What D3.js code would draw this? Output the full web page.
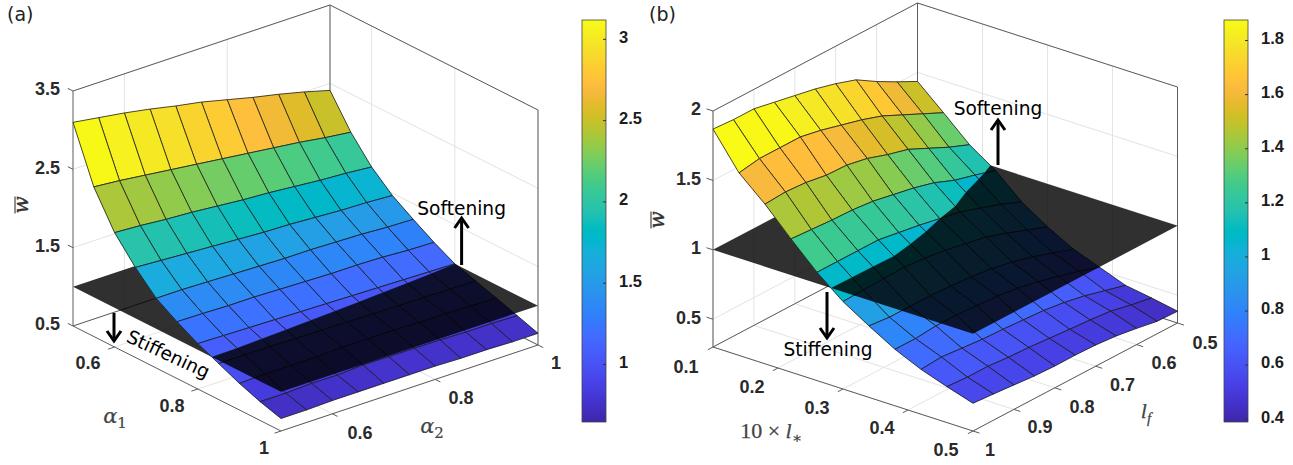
<!DOCTYPE html>
<html><head><meta charset="utf-8">
<script src="https://cdn.jsdelivr.net/npm/d3@7/dist/d3.min.js"></script>
<style>
html,body{margin:0;padding:0;background:#fff}
svg{display:block}
text{fill:#1c1c1c}
.tick-label{font:bold 18px "Liberation Sans",Arial,sans-serif;fill:#2a2a2a}
.cb-label{font:bold 16.5px "Liberation Sans",Arial,sans-serif}
.note{font:18.6px "DejaVu Sans",Verdana,sans-serif;fill:#000}
.panel{font:19px "DejaVu Sans",Verdana,sans-serif;fill:#222}
.math{font:italic 22px "Liberation Serif","DejaVu Serif",serif;fill:#444;stroke:#444;stroke-width:.25}
.greek{font:italic 21px "DejaVu Serif",serif;fill:#444;stroke:#444;stroke-width:.2}
.mathb{font:italic 20px "DejaVu Serif",serif;fill:#333;stroke:#333;stroke-width:.4}
</style></head><body>
<script>
// ---------- data ----------
const alpha1 = [0.5,0.55,0.6,0.65,0.7,0.75,0.8,0.85,0.9,0.95,1];
const alpha2 = [0.5,0.55,0.6,0.65,0.7,0.75,0.8,0.85,0.9,0.95,1];
const wA = [
 [3.10,3.05,3.00,2.94,2.87,2.81,2.73,2.65,2.58,2.50,2.41],
 [2.41,2.38,2.34,2.30,2.26,2.22,2.18,2.14,2.10,2.05,2.01],
 [1.96,1.94,1.91,1.89,1.86,1.83,1.81,1.78,1.75,1.73,1.70],
 [1.65,1.63,1.61,1.59,1.57,1.55,1.54,1.52,1.50,1.49,1.47],
 [1.39,1.39,1.38,1.37,1.36,1.35,1.35,1.34,1.33,1.31,1.30],
 [1.225,1.22,1.21,1.21,1.20,1.19,1.18,1.18,1.17,1.15,1.14],
 [1.08,1.072,1.064,1.056,1.048,1.04,1.032,1.024,1.016,1.008,1.00],
 [0.96,0.96,0.955,0.95,0.945,0.94,0.935,0.93,0.925,0.92,0.915],
 [0.84,0.85,0.85,0.85,0.86,0.86,0.86,0.85,0.85,0.84,0.83],
 [0.74,0.74,0.755,0.75,0.77,0.766,0.763,0.76,0.75,0.75,0.74],
 [0.66,0.66,0.67,0.67,0.67,0.67,0.67,0.66,0.66,0.65,0.65]
];
const lStar = [0.1,0.14,0.18,0.22,0.26,0.3,0.34,0.38,0.42,0.46,0.5];
const lf = [1,0.95,0.9,0.85,0.8,0.75,0.7,0.65,0.6,0.55,0.5];
const wB = [
 [1.87,1.86,1.86,1.83,1.80,1.77,1.73,1.68,1.59,1.51,1.435],
 [1.615,1.64,1.64,1.64,1.61,1.57,1.53,1.48,1.41,1.34,1.27],
 [1.45,1.46,1.45,1.425,1.42,1.39,1.34,1.30,1.23,1.16,1.10],
 [1.26,1.25,1.24,1.235,1.22,1.19,1.16,1.12,1.06,1.02,0.975],
 [1.08,1.08,1.08,1.08,1.055,1.03,1.00,0.97,0.92,0.87,0.81],
 [0.93,0.935,0.94,0.945,0.93,0.91,0.88,0.85,0.80,0.745,0.69],
 [0.815,0.80,0.80,0.80,0.79,0.78,0.76,0.73,0.69,0.64,0.59],
 [0.707,0.706,0.72,0.72,0.71,0.70,0.68,0.65,0.61,0.57,0.52],
 [0.623,0.634,0.62,0.606,0.60,0.59,0.58,0.56,0.53,0.49,0.45],
 [0.559,0.55,0.55,0.537,0.53,0.518,0.505,0.495,0.48,0.447,0.42],
 [0.50,0.489,0.476,0.463,0.457,0.458,0.453,0.44,0.417,0.39,0.385]
];
const zTicksA = [0.5,1.5,2.5,3.5];
const uTicksA = [0.6,0.8,1];
const vTicksA = [0.6,0.8,1];
const cbTicksA = [1,1.5,2,2.5,3];
const zTicksB = [0.5,1,1.5,2];
const uTicksB = [0.1,0.2,0.3,0.4,0.5];
const vTicksB = [0.5,0.6,0.7,0.8,0.9,1];
const cbTicksB = [0.4,0.6,0.8,1,1.2,1.4,1.6,1.8];
const planeLevel = 1;

// MATLAB parula colormap
const parula = [[.2422,.1504,.6603],[.2504,.1650,.7076],[.2578,.1818,.7511],[.2647,.1978,.7952],[.2706,.2147,.8364],[.2751,.2342,.8710],[.2783,.2559,.8991],[.2803,.2782,.9221],[.2813,.3006,.9414],[.2810,.3228,.9579],[.2795,.3447,.9717],[.2760,.3667,.9829],[.2699,.3892,.9906],[.2602,.4123,.9952],[.2440,.4358,.9988],[.2206,.4603,.9973],[.1963,.4847,.9892],[.1834,.5074,.9798],[.1786,.5289,.9682],[.1764,.5499,.9520],[.1687,.5703,.9359],[.1540,.5902,.9218],[.1460,.6091,.9079],[.1380,.6276,.8973],[.1248,.6459,.8883],[.1113,.6635,.8763],[.0952,.6798,.8598],[.0689,.6948,.8394],[.0297,.7082,.8163],[.0036,.7203,.7917],[.0067,.7312,.7660],[.0433,.7411,.7394],[.0964,.7500,.7120],[.1408,.7584,.6842],[.1717,.7670,.6554],[.1938,.7758,.6251],[.2161,.7843,.5923],[.2470,.7918,.5567],[.2906,.7973,.5188],[.3406,.8008,.4789],[.3909,.8029,.4354],[.4456,.8024,.3909],[.5044,.7993,.3480],[.5616,.7942,.3045],[.6174,.7876,.2612],[.6720,.7793,.2227],[.7242,.7698,.1910],[.7738,.7598,.1646],[.8203,.7498,.1535],[.8634,.7406,.1596],[.9035,.7330,.1774],[.9393,.7288,.2100],[.9728,.7298,.2394],[.9956,.7434,.2371],[.9970,.7659,.2199],[.9952,.7893,.2028],[.9892,.8136,.1885],[.9786,.8386,.1766],[.9676,.8639,.1643],[.9610,.8890,.1537],[.9597,.9135,.1423],[.9628,.9373,.1265],[.9691,.9606,.1064],[.9769,.9839,.0805]]
  .map(c=>d3.rgb(c[0]*255,c[1]*255,c[2]*255));
const parulaFn = d3.scaleLinear().domain(parula.map((_,i)=>i/(parula.length-1))).range(parula).interpolate(d3.interpolateRgb);

const svg = d3.select("body").append("svg").attr("width",1293).attr("height",465);
const defs = svg.append("defs");

function drawPanel(cfg){
  const g = svg.append("g");
  const {L,F,R,H,uDom,vDom,zDom,us,vs,w} = cfg;
  const B = [L[0]+R[0]-F[0], L[1]+R[1]-F[1]];
  const tu = d3.scaleLinear().domain(uDom).range([0,1]);
  const tv = d3.scaleLinear().domain(vDom).range([0,1]);
  const hz = d3.scaleLinear().domain(zDom).range([0,H]);
  const P = (u,v,z)=>[
    L[0]+tu(u)*(F[0]-L[0])+tv(v)*(B[0]-L[0]),
    L[1]+tu(u)*(F[1]-L[1])+tv(v)*(B[1]-L[1])-hz(z)
  ];
  const [u0,u1]=uDom,[v0,v1]=vDom,[z0,z1]=zDom;
  const line=d3.line();
  const seg=(a,b,col,wd)=>g.append("path").attr("d",line([a,b])).attr("stroke",col).attr("stroke-width",wd).attr("fill","none");
  const GRID="#e3e3e3", BOX="#5c5c5c";

  // wall and floor grid
  cfg.zTicks.forEach(z=>{
    seg(P(u0,v0,z),P(u0,v1,z),GRID,1);
    seg(P(u0,v1,z),P(u1,v1,z),GRID,1);
  });
  cfg.vTicks.forEach(v=>{
    seg(P(u0,v,z0),P(u0,v,z1),GRID,1);
    seg(P(u0,v,z0),P(u1,v,z0),GRID,1);
  });
  cfg.uTicks.forEach(u=>{
    seg(P(u,v1,z0),P(u,v1,z1),GRID,1);
    seg(P(u,v0,z0),P(u,v1,z0),GRID,1);
  });
  // box
  [[[u0,v0,z0],[u0,v0,z1]],[[u0,v0,z1],[u0,v1,z1]],[[u0,v1,z1],[u1,v1,z1]],[[u1,v1,z1],[u1,v1,z0]],
   [[u0,v1,z1],[u0,v1,z0]],[[u0,v0,z0],[u0,v1,z0]],[[u0,v1,z0],[u1,v1,z0]],
   [[u0,v0,z0],[u1,v0,z0]],[[u1,v0,z0],[u1,v1,z0]]]
   .forEach(e=>seg(P(...e[0]),P(...e[1]),BOX,1));
  const zScale=d3.scaleLinear().domain(zDom).range([L[1],L[1]-H]);
  const dxu=(F[0]-L[0])*0.025, dyu=(F[1]-L[1])*0.025;
  const dxv=(B[0]-L[0])*0.025, dyv=(B[1]-L[1])*0.025;
  cfg.zTicks.forEach(z=>{
    const p=P(u0,v0,z);
    seg(p,[p[0]-dxu,p[1]-dyu],BOX,1);
    g.append("text").attr("class","tick-label").attr("x",cfg.zLabelX).attr("y",zScale(z)-2).attr("dy","0.35em").attr("text-anchor","end").text(z);
  });
  cfg.uTicks.forEach((u,i)=>{
    const p=P(u,v0,z0);
    seg(p,[p[0]-dxv,p[1]-dyv],BOX,1);
    g.append("text").attr("class","tick-label").attr("x",cfg.uLabels[i][0]).attr("y",cfg.uLabels[i][1]).attr("dy","0.35em").attr("text-anchor","middle").text(u);
  });
  cfg.vTicks.forEach((v,i)=>{
    const p=P(u1,v,z0);
    seg(p,[p[0]+dxu,p[1]+dyu],BOX,1);
    g.append("text").attr("class","tick-label").attr("x",cfg.vLabels[i][0]).attr("y",cfg.vLabels[i][1]).attr("dy","0.35em").attr("text-anchor","middle").text(v);
  });

  // surface
  const color=d3.scaleLinear().domain(cfg.cDom).range([0,1]).clamp(true);
  const cells=[];
  for(let i=0;i<us.length-1;i++){
    for(let j=vs.length-2;j>=0;j--){
      cells.push({c:parulaFn(color(w[i][j])),
        q:[[us[i],vs[j],w[i][j]],[us[i+1],vs[j],w[i+1][j]],[us[i+1],vs[j+1],w[i+1][j+1]],[us[i],vs[j+1],w[i][j+1]]]});
    }
  }
  cells.sort((a,b)=>(tu(a.q[0][0])-tv(a.q[0][1]))-(tu(b.q[0][0])-tv(b.q[0][1])));
  const keep=(p,sgn)=>sgn*(p[2]-planeLevel)>=0;
  const cross=(a,b)=>{const t=(planeLevel-a[2])/(b[2]-a[2]);return [a[0]+t*(b[0]-a[0]),a[1]+t*(b[1]-a[1]),planeLevel];};
  function part(cell,sgn){
    const poly=[],edges=[];
    cell.q.forEach((a,k)=>{
      const b=cell.q[(k+1)%4];
      const ka=keep(a,sgn),kb=keep(b,sgn);
      if(ka) poly.push(a);
      if(ka!==kb) poly.push(cross(a,b));
      if(ka&&kb) edges.push([a,b]);
      else if(ka) edges.push([a,cross(a,b)]);
      else if(kb) edges.push([cross(a,b),b]);
    });
    if(poly.length<3) return;
    g.append("path").attr("d",line(poly.map(p=>P(...p)))+"Z").attr("fill",cell.c).attr("stroke",cell.c).attr("stroke-width",0.3);
    g.append("path").attr("d",edges.map(e=>line(e.map(p=>P(...p)))).join("")).attr("fill","none").attr("stroke","#1a1a1a").attr("stroke-width",0.8);
  }
  cells.forEach(c=>part(c,-1));
  g.append("path").attr("d",line([P(u0,v0,planeLevel),P(u1,v0,planeLevel),P(u1,v1,planeLevel),P(u0,v1,planeLevel)])+"Z")
    .attr("fill","#000").attr("fill-opacity",0.81);
  cells.forEach(c=>part(c,1));

  // colour bar
  const cb=cfg.cb;
  const id="cbgrad"+cfg.id;
  const grad=defs.append("linearGradient").attr("id",id).attr("x1",0).attr("x2",0).attr("y1",1).attr("y2",0);
  parula.forEach((c,i)=>grad.append("stop").attr("offset",i/(parula.length-1)).attr("stop-color",c));
  g.append("rect").attr("x",cb.x).attr("y",cb.y0).attr("width",cb.w).attr("height",cb.y1-cb.y0).attr("fill",`url(#${id})`).attr("stroke","#444").attr("stroke-width",0.8);
  const cbScale=d3.scaleLinear().domain(cfg.cDom).range([cb.y1,cb.y0]);
  const ax=g.append("g").attr("transform",`translate(${cb.x+cb.w},0)`)
    .call(d3.axisRight(cbScale).tickValues(cfg.cbTicks).tickSize(-3).tickPadding(10).tickFormat(d=>d));
  ax.select(".domain").remove();
  ax.selectAll(".tick line").attr("stroke","#333");
  ax.selectAll(".tick text").attr("class","cb-label").attr("x",cfg.cbLabelDx).attr("dy","0.2em").attr("fill",null).attr("font-family",null).attr("font-size",null);
  ax.attr("font-size",null).attr("font-family",null);

  // panel letter
  g.append("text").attr("class","panel").attr("x",cfg.letter[0]).attr("y",cfg.letter[1]).text(cfg.letter[2]);
  // w-bar label: rotated glyph with its bar drawn as a rule
  g.append("text").attr("class","mathb").attr("transform",`translate(${cfg.wLabel[0]},${cfg.wLabel[1]}) rotate(-90)`)
    .attr("text-anchor","middle").text("w");
  seg([cfg.wLabel[0]-13,cfg.wLabel[1]-8.5],[cfg.wLabel[0]-13,cfg.wLabel[1]+8.5],"#333",1.1);
  cfg.math(g);

  // annotations
  const arrow=(x,y0,y1)=>{
    const dir=y1>y0?1:-1;
    g.append("path").attr("d",line([[x,y0],[x,y1-dir*3]])).attr("stroke","#000").attr("stroke-width",3).attr("fill","none");
    g.append("path").attr("d",line([[x-7,y1-dir*10],[x,y1],[x+7,y1-dir*10]])).attr("stroke","#000").attr("stroke-width",3).attr("fill","none");
  };
  cfg.arrows.forEach(a=>arrow(...a));
  cfg.notes.forEach(n=>g.append("text").attr("class","note").attr("text-anchor","middle")
    .attr("transform",`translate(${n.x},${n.y}) rotate(${n.r||0})`).text(n.t));
}

function mathLabel(g,x,y,base,sub,cls){
  const t=g.append("text").attr("class",cls).attr("x",x).attr("y",y).attr("text-anchor","middle");
  t.append("tspan").text(base);
  t.append("tspan").attr("dy",5).style("font-size","15px").style("font-style",cls==="math"?"italic":"normal").text(sub);
}

drawPanel({
  id:"a",L:[73,326],F:[281,431],R:[538,345],H:235,
  uDom:[0.5,1],vDom:[0.5,1],zDom:[0.5,3.5],us:alpha1,vs:alpha2,w:wA,
  zTicks:zTicksA,uTicks:uTicksA,vTicks:vTicksA,cbTicks:cbTicksA,cDom:[0.643,3.116],
  zLabelX:60,uLabels:[[88,363],[172,406],[264,448]],vLabels:[[360,433],[461,398],[556,363]],
  cb:{x:582,w:24,y0:20,y1:422},cbLabelDx:13,
  letter:[7,21,"(a)"],wLabel:[28,205],
  math:g=>{mathLabel(g,115,423,"α","1","greek");mathLabel(g,432,433,"α","2","greek");},
  arrows:[[461.6,265,218],[114,313,341]],
  notes:[{x:461.6,y:214.5,t:"Softening"},{x:165.5,y:360,r:25,t:"Stiffening"}]
});
drawPanel({
  id:"b",L:[713,347],F:[973,431],R:[1177.5,323],H:236,
  uDom:[0.1,0.5],vDom:[1,0.5],zDom:[0.3,2],us:lStar,vs:lf,w:wB,
  zTicks:zTicksB,uTicks:uTicksB,vTicks:vTicksB,cbTicks:cbTicksB,cDom:[0.388,1.874],
  zLabelX:701,uLabels:[[686,367],[752,387],[817,408],[882,428],[946,450]],
  vLabels:[[1205,343],[1164,363],[1122.5,385],[1082,407],[1040,427],[990,450]],
  cb:{x:1224,w:24,y0:20,y1:422},cbLabelDx:13,
  letter:[649,21,"(b)"],wLabel:[664,220],
  math:g=>{
    mathLabel(g,1146,418,"l","f","math");
    const t=g.append("text").attr("class","math").attr("x",771).attr("y",438).attr("text-anchor","middle");
    t.append("tspan").style("font-style","normal").text("10 × ");
    t.append("tspan").text("l");
    t.append("tspan").attr("dy",5).style("font-size","15px").style("font-style","normal").text("∗");
  },
  arrows:[[998,165,120],[827,292,338]],
  notes:[{x:998,y:114.5,t:"Softening"},{x:828,y:355.5,t:"Stiffening"}]
});
</script>
</body></html>
